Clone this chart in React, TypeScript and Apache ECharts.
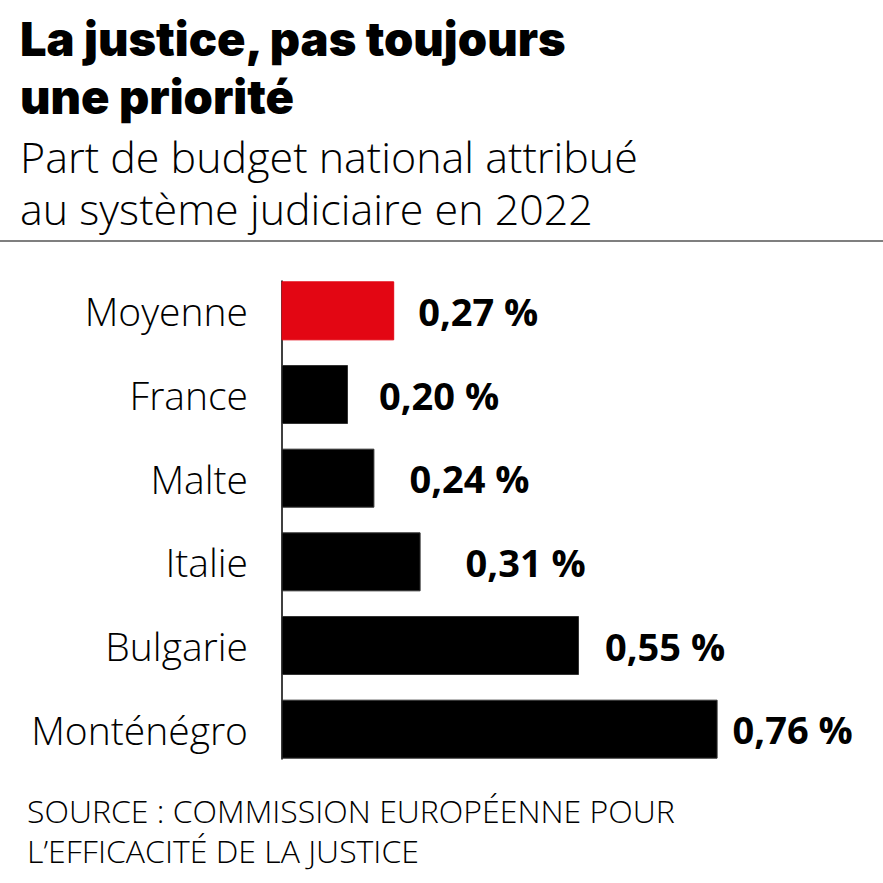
import React, { useEffect, useRef } from "react";
import * as echarts from "echarts";

// Share of national budget allocated to the judicial system, 2022 (%)
const categories = ["Moyenne", "France", "Malte", "Italie", "Bulgarie", "Monténégro"];
const values = [0.27, 0.2, 0.24, 0.31, 0.55, 0.76];
const highlight = "Moyenne";

const titleLines = ["La justice, pas toujours", "une priorité"];
const subtitleLines = ["Part de budget national attribué", "au système judiciaire en 2022"];
const sourceLines = ["SOURCE : COMMISSION EUROPÉENNE POUR", "L’EFFICACITÉ DE LA JUSTICE"];

// gap between each bar end and its value label
const labelGaps = [24, 31, 35, 45, 26, 15];

const RED = "#e30613";
const BLACK = "#000000";
const TEXT = "'Open Sans', Lato, 'Noto Sans', sans-serif";
const HEAVY = "Inter, Roboto, 'Noto Sans', sans-serif";

export default function App() {
  const ref = useRef<HTMLDivElement>(null);

  useEffect(() => {
    if (!ref.current) return;
    const chart = echarts.init(ref.current, null, { renderer: "svg" });

    const fmt = (v: number) => v.toFixed(2).replace(".", ",") + " %";

    chart.setOption({
      animation: false,
      backgroundColor: "#ffffff",
      grid: [
        // bars
        { left: 282, top: 269, width: 462, height: 502, containLabel: false },
        // baseline rule, spanning from the first bar's top to the last bar's bottom
        { left: 282, top: 281, width: 462, height: 478, containLabel: false },
      ],
      xAxis: [
        { type: "value", gridIndex: 0, min: 0.1, max: 0.8, show: false, splitLine: { show: false } },
        { type: "value", gridIndex: 1, min: 0, max: 1, show: false, splitLine: { show: false } },
      ],
      yAxis: [
        {
          type: "category",
          gridIndex: 0,
          data: categories,
          inverse: true,
          axisLine: { show: false },
          axisTick: { show: false },
          axisLabel: {
            margin: 34,
            color: "#000",
            fontFamily: TEXT,
            fontWeight: 300,
            fontSize: 39,
          },
        },
        {
          type: "value",
          gridIndex: 1,
          min: 0,
          max: 1,
          axisLine: { show: true, lineStyle: { color: "#000", width: 1.5 } },
          axisTick: { show: false },
          axisLabel: { show: false },
          splitLine: { show: false },
        },
      ],
      series: [
        {
          type: "bar",
          xAxisIndex: 0,
          yAxisIndex: 0,
          barWidth: 59,
          data: values.map((v, i) => ({
            value: v,
            itemStyle: {
              color: categories[i] === highlight ? RED : BLACK,
              borderColor: categories[i] === highlight ? RED : "#333",
              borderWidth: 1,
            },
            label: { distance: labelGaps[i] },
          })),
          label: {
            show: true,
            position: "right",
            formatter: (p: any) => fmt(p.value),
            color: "#000",
            fontFamily: TEXT,
            fontWeight: 700,
            fontSize: 38,
          },
        },
      ],
      graphic: [
        ...titleLines.map((t, i) => ({
          type: "text",
          left: 20,
          top: 15 + i * 58,
          style: {
            text: t,
            fill: "#000",
            font: "900 47px " + HEAVY,
            lineHeight: 47,
          },
        })),
        {
          type: "text",
          left: 20,
          top: 130,
          style: {
            text: subtitleLines.join("\n"),
            fill: "#000",
            font: "300 43px " + TEXT,
            lineHeight: 52,
          },
        },
        {
          type: "line",
          shape: { x1: 0, y1: 241, x2: 883, y2: 241 },
          style: { stroke: "#555", lineWidth: 1.5 },
        },
        {
          type: "text",
          left: 27,
          top: 790,
          style: {
            text: sourceLines.join("\n"),
            fill: "#000",
            font: "300 32px " + TEXT,
            lineHeight: 40,
          },
        },
      ],
    });

    return () => chart.dispose();
  }, []);

  return (
    <div
      ref={ref}
      style={{ position: "absolute", left: 0, top: 0, width: 883, height: 883 }}
    />
  );
}
